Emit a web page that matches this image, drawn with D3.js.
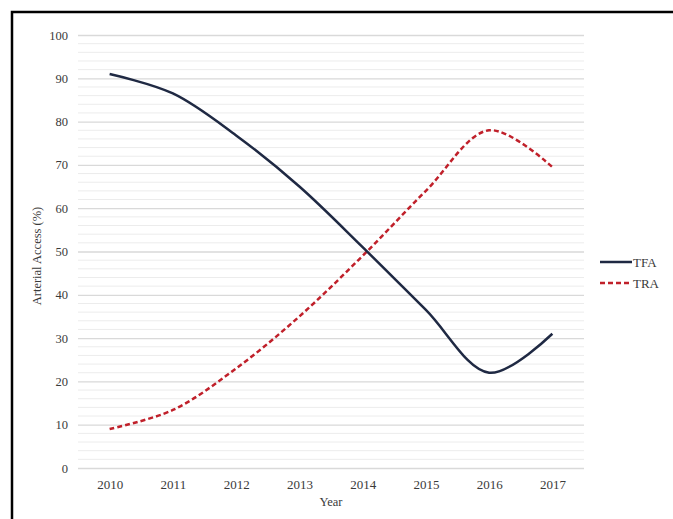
<!DOCTYPE html>
<html>
<head>
<meta charset="utf-8">
<script src="https://cdn.jsdelivr.net/npm/d3@7"></script>
<style>
  html, body { margin: 0; padding: 0; background: #fff; }
  svg { display: block; }
  text { font-family: "Liberation Serif", "Times New Roman", serif; fill: #3a3a3a; }
</style>
</head>
<body>
<svg id="chart" width="673" height="519"></svg>
<script>
// Arterial access share by year
const years = ["2010", "2011", "2012", "2013", "2014", "2015", "2016", "2017"];
const tfaValues = [91, 86.5, 76.8, 65, 51, 36.5, 22, 31];
const traValues = [9, 13.4, 23, 35, 49, 64, 78, 69.5];
const yTicks = [0, 10, 20, 30, 40, 50, 60, 70, 80, 90, 100];
const minorTicks = d3.range(0, 101, 2);
const seriesNames = ["TFA", "TRA"];

const svg = d3.select("#chart");

// frame around the figure
svg.append("rect")
  .attr("x", 12).attr("y", 12)
  .attr("width", 700).attr("height", 560)
  .attr("fill", "none").attr("stroke", "#000").attr("stroke-width", 2.5);

const plot = { left: 78, right: 584, top: 35, bottom: 468 };

const x = d3.scalePoint().domain(years).range([plot.left, plot.right]).padding(0.5);
const y = d3.scaleLinear().domain([0, 100]).range([plot.bottom, plot.top]);

// minor gridlines every 2%
svg.append("g").selectAll("line")
  .data(minorTicks.filter(d => d % 10 !== 0))
  .join("line")
  .attr("x1", plot.left).attr("x2", plot.right)
  .attr("y1", d => y(d)).attr("y2", d => y(d))
  .attr("stroke", "#ececec").attr("stroke-width", 1);

// major gridlines every 10% via the axis
const yAxis = svg.append("g")
  .attr("transform", `translate(${plot.left},0)`)
  .call(d3.axisLeft(y).tickValues(yTicks).tickSize(-(plot.right - plot.left)).tickPadding(10));
yAxis.select(".domain").remove();
yAxis.selectAll(".tick line").attr("stroke", "#d9d9d9").attr("stroke-width", 1.3);
yAxis.selectAll(".tick text")
  .attr("font-size", 12.5).attr("fill", "#3a3a3a")
  .style("font-family", "'Liberation Serif', serif");

const xAxis = svg.append("g")
  .attr("transform", `translate(0,${plot.bottom})`)
  .call(d3.axisBottom(x).tickSize(0).tickPadding(12));
xAxis.select(".domain").remove();
xAxis.selectAll(".tick text")
  .attr("font-size", 13).attr("fill", "#3a3a3a")
  .style("font-family", "'Liberation Serif', serif");

// axis titles
svg.append("text")
  .attr("x", (plot.left + plot.right) / 2).attr("y", 506)
  .attr("text-anchor", "middle").attr("font-size", 12.5)
  .text("Year");

svg.append("text")
  .attr("transform", `translate(41,256) rotate(-90)`)
  .attr("text-anchor", "middle").attr("font-size", 12.5)
  .text("Arterial Access (%)");

// smoothed series lines
const line = d3.line()
  .x((d, i) => x(years[i]))
  .y(d => y(d))
  .curve(d3.curveCatmullRom.alpha(0.5));

const styles = {
  TFA: { color: "#1f2943", dash: null },
  TRA: { color: "#c0202a", dash: "5,3" }
};

svg.append("path")
  .datum(traValues)
  .attr("d", line)
  .attr("fill", "none")
  .attr("stroke", styles.TRA.color).attr("stroke-width", 2.5)
  .attr("stroke-dasharray", styles.TRA.dash);

svg.append("path")
  .datum(tfaValues)
  .attr("d", line)
  .attr("fill", "none")
  .attr("stroke", styles.TFA.color).attr("stroke-width", 2.5);

// legend
const legend = svg.append("g");
seriesNames.forEach((name, i) => {
  const ly = 262 + i * 21;
  legend.append("line")
    .attr("x1", 600).attr("x2", 632)
    .attr("y1", ly).attr("y2", ly)
    .attr("stroke", styles[name].color).attr("stroke-width", 2.5)
    .attr("stroke-dasharray", styles[name].dash);
  legend.append("text")
    .attr("x", 633).attr("y", ly + 4.5)
    .attr("font-size", 13)
    .text(name);
});
</script>
</body>
</html>
